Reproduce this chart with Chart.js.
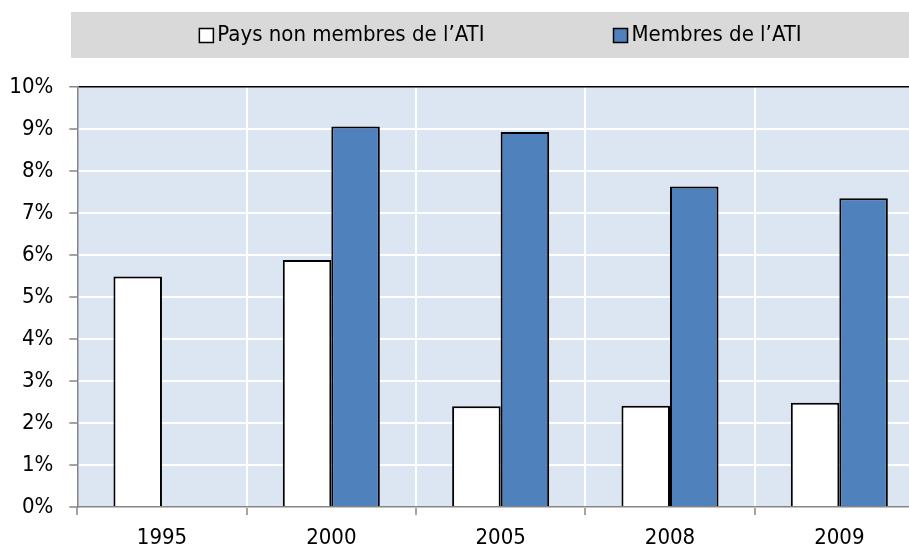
<!DOCTYPE html>
<html lang="fr">
<head>
  <meta charset="UTF-8">
  <title>Membres de l'ATI</title>
  <script src="https://cdn.jsdelivr.net/npm/chart.js"></script>
  <style>
    html, body {
      margin: 0;
      padding: 0;
      background: #fff;
      overflow: hidden;
    }
    #wrap {
      width: 930px;
      height: 549px;
    }
  </style>
</head>
<body>
  <div id="wrap">
    <canvas id="atiChart" width="930" height="549"></canvas>
  </div>

  <script>
    const years = ["1995", "2000", "2005", "2008", "2009"];
    const nonMembers = [5.49, 5.88, 2.40, 2.41, 2.48];
    const members = [null, 9.06, 8.93, 7.63, 7.35];
    const seriesNames = ["Pays non membres de l\u2019ATI", "Membres de l\u2019ATI"];

    const FONT = "'Liberation Sans Narrow', 'Arial Narrow', 'DejaVu Sans Condensed', sans-serif";
    const AXIS_GREY = "#868686";

    // legend in a grey band, drawn by hand
    const bandLegend = {
      id: "bandLegend",
      beforeDraw(chart) {
        const ctx = chart.ctx;
        const left = 71, top = 12, bottom = 58;
        ctx.save();
        ctx.fillStyle = "#d9d9d9";
        ctx.fillRect(left, top, chart.width - left, bottom - top);

        ctx.font = "22px " + FONT;
        ctx.textBaseline = "middle";
        const box = 14, gapText = 4, gapItems = 129;
        const items = chart.data.datasets.map(ds => ({
          text: ds.label,
          fill: ds.backgroundColor,
          w: box + gapText + ctx.measureText(ds.label).width
        }));
        const total = items.reduce((s, it) => s + it.w, 0) + gapItems * (items.length - 1);
        let x = left + (chart.width - left - total) / 2;
        const cy = (top + bottom) / 2 + 0.5;
        items.forEach(it => {
          ctx.fillStyle = it.fill;
          ctx.fillRect(x, cy - box / 2, box, box);
          ctx.strokeStyle = "#000";
          ctx.lineWidth = 1.5;
          ctx.strokeRect(x, cy - box / 2, box, box);
          ctx.fillStyle = "#000";
          ctx.fillText(it.text, x + box + gapText, cy);
          x += it.w + gapItems;
        });
        ctx.restore();
      }
    };

    const plotBg = {
      id: "plotBg",
      beforeDraw(chart) {
        const a = chart.chartArea;
        chart.ctx.save();
        chart.ctx.fillStyle = "#dce6f2";
        chart.ctx.fillRect(a.left, a.top, a.right - a.left, a.bottom - a.top);
        chart.ctx.restore();
      }
    };

    new Chart(document.getElementById("atiChart"), {
      type: "bar",
      data: {
        labels: years,
        datasets: [
          {
            label: seriesNames[0],
            data: nonMembers,
            backgroundColor: "#ffffff",
            borderColor: "#000000",
            borderWidth: 2
          },
          {
            label: seriesNames[1],
            data: members,
            backgroundColor: "#4f81bd",
            borderColor: "#000000",
            borderWidth: 2
          }
        ]
      },
      plugins: [plotBg, bandLegend],
      options: {
        responsive: false,
        animation: false,
        layout: {
          padding: { top: 87, right: 6, bottom: 0, left: 0 }
        },
        datasets: {
          bar: {
            categoryPercentage: 0.573,
            barPercentage: 1
          }
        },
        plugins: {
          legend: { display: false },
          tooltip: { enabled: false }
        },
        scales: {
          x: {
            grid: {
              color: "#ffffff",
              lineWidth: 2,
              tickColor: AXIS_GREY,
              tickLength: 8,
              tickWidth: 1.5
            },
            border: { color: AXIS_GREY, width: 1.5 },
            ticks: {
              color: "#000",
              font: { family: FONT, size: 22 },
              padding: 10
            },
            afterFit(scale) { scale.height = 42; }
          },
          y: {
            min: 0,
            max: 10,
            grid: {
              color: ctx => ctx.tick && ctx.tick.value === 10 ? "#000000" : "#ffffff",
              lineWidth: ctx => ctx.tick && ctx.tick.value === 10 ? 1.5 : 2,
              tickColor: AXIS_GREY,
              tickLength: 8,
              tickWidth: 1.5
            },
            border: { color: AXIS_GREY, width: 1.5 },
            ticks: {
              stepSize: 1,
              color: "#000",
              font: { family: FONT, size: 22 },
              padding: 16,
              callback: v => v + "%"
            },
            afterFit(scale) { scale.width = 77.3; }
          }
        }
      }
    });
  </script>
</body>
</html>
